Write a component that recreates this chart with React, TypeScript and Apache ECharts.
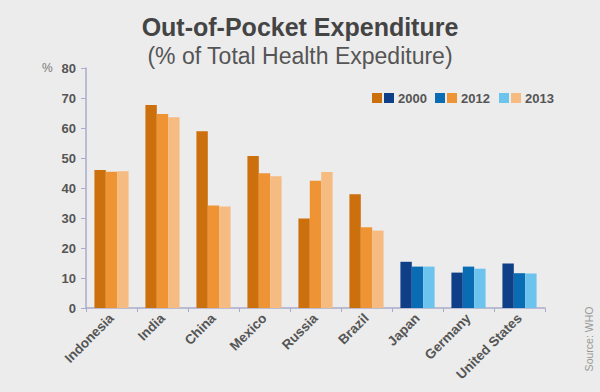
import React, { useEffect, useRef } from "react";
import * as echarts from "echarts";

const countries = ["Indonesia", "India", "China", "Mexico", "Russia", "Brazil", "Japan", "Germany", "United States"];
const highIncome = [false, false, false, false, false, false, true, true, true];
const v2000 = [46, 67.7, 58.9, 50.7, 29.8, 37.9, 15.4, 11.8, 14.8];
const v2012 = [45.4, 64.7, 34.2, 44.9, 42.4, 26.9, 13.8, 13.8, 11.6];
const v2013 = [45.6, 63.6, 33.8, 43.9, 45.3, 25.8, 13.8, 13.1, 11.5];
const years = ["2000", "2012", "2013"];
const yTicks = [0, 10, 20, 30, 40, 50, 60, 70, 80];

const orange = ["#cc6f0d", "#ee9434", "#f6bb80"];
const blue = ["#0f3f87", "#0a6db4", "#6cc4ee"];
const FONT = "'Liberation Sans', Arial, Helvetica, sans-serif";

export default function App() {
  const ref = useRef<HTMLDivElement>(null);
  useEffect(() => {
    document.body.style.margin = "0";
    const chart = echarts.init(ref.current!, null, { renderer: "svg" });
    const seriesData = [v2000, v2012, v2013];
    const series = seriesData.map((arr, si) => ({
      name: years[si],
      type: "bar",
      barGap: "0%",
      barCategoryGap: "33%",
      data: arr.map((v, i) => ({
        value: v,
        itemStyle: { color: highIncome[i] ? blue[si] : orange[si] },
      })),
    }));

    // legend (two swatches per year)
    const legendItems: any[] = [];
    const legendX = [372, 435, 499];
    years.forEach((y, i) => {
      const x = legendX[i];
      const first = i === 0 ? orange[0] : i === 1 ? blue[1] : blue[2];
      const second = i === 0 ? blue[0] : i === 1 ? orange[1] : orange[2];
      legendItems.push({ type: "rect", shape: { x, y: 93, width: 10, height: 10 }, style: { fill: first } });
      legendItems.push({ type: "rect", shape: { x: x + 12, y: 93, width: 10, height: 10 }, style: { fill: second } });
      legendItems.push({
        type: "text",
        x: x + 26,
        y: 98,
        style: { text: y, fill: "#555", font: `bold 13px ${FONT}`, verticalAlign: "middle" },
      });
    });

    chart.setOption({
      animation: false,
      backgroundColor: "#ececec",
      title: [
        {
          text: "Out-of-Pocket Expenditure",
          left: "center",
          top: 9,
          textStyle: { fontFamily: FONT, fontSize: 25, fontWeight: "bold", color: "#444" },
        },
        {
          text: "(% of Total Health Expediture)",
          left: "center",
          top: 39,
          textStyle: { fontFamily: FONT, fontSize: 23, fontWeight: "normal", color: "#555" },
        },
      ],
      grid: { left: 86, right: 55, top: 68, bottom: 84 },
      xAxis: {
        type: "category",
        data: countries,
        boundaryGap: true,
        axisLine: { lineStyle: { color: "#aaaccb", width: 1.5 } },
        axisTick: { show: true, length: 4, lineStyle: { color: "#aaaccb" } },
        axisLabel: {
          rotate: 45,
          margin: 8,
          interval: 0,
          fontFamily: FONT,
          fontSize: 13.5,
          fontWeight: "bold",
          color: "#555",
        },
      },
      yAxis: {
        type: "value",
        min: 0,
        max: 80,
        interval: 10,
        splitLine: { show: false },
        axisLine: { show: true, lineStyle: { color: "#aaaccb", width: 1.5 } },
        axisTick: { show: true, length: 5, lineStyle: { color: "#aaaccb" } },
        axisLabel: {
          margin: 10,
          fontFamily: FONT,
          fontSize: 13,
          fontWeight: "bold",
          color: "#555",
          formatter: (v: number) => (yTicks.includes(v) ? String(v) : ""),
        },
      },
      series,
      graphic: [
        ...legendItems,
        {
          type: "text",
          x: 42,
          y: 68,
          style: { text: "%", fill: "#777", font: `12px ${FONT}`, verticalAlign: "middle" },
        },
        {
          type: "text",
          x: 589,
          y: 339,
          rotation: Math.PI / 2,
          style: { text: "Source: WHO", fill: "#999", font: `10.5px ${FONT}`, verticalAlign: "middle", align: "center" },
        },
      ],
    });
    return () => chart.dispose();
  }, []);
  return <div ref={ref} style={{ width: 600, height: 392 }} />;
}
